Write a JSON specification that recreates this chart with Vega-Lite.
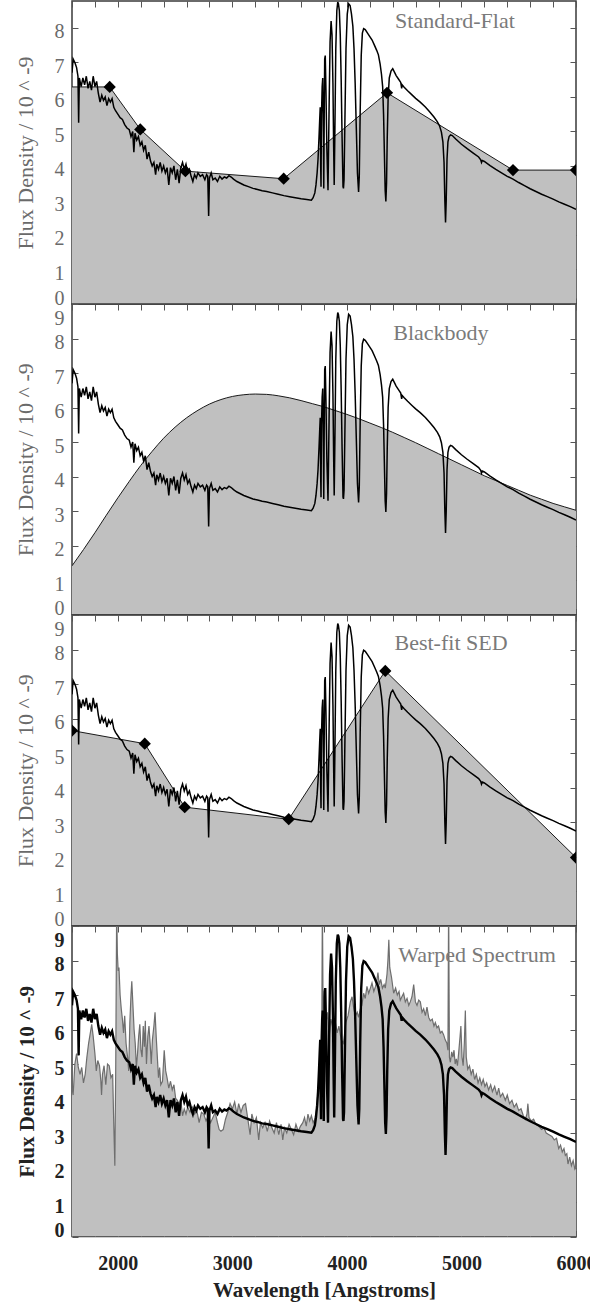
{
  "$schema": "https://vega.github.io/schema/vega-lite/v6.json",
  "padding": {"left": 13, "top": -1, "right": 0, "bottom": 0},
  "autosize": {"type": "pad"},
  "bounds": "flush",
  "spacing": 0,
  "config": {
    "font": "Liberation Serif",
    "view": {"stroke": "#3a3a3a", "strokeWidth": 1.5},
    "axis": {"domain": false, "grid": false, "tickColor": "#555", "tickSize": -6, "tickWidth": 1, "labelFont": "Liberation Serif", "titleFont": "Liberation Serif", "labelFontSize": 20, "titleFontSize": 22, "labelColor": "#6a6a6a", "titleColor": "#6a6a6a", "titleFontWeight": "normal", "labelOverlap": false, "labelFlush": false},
    "text": {"font": "Liberation Serif"}
  },
  "datasets": {
    "spectrum": [
      {"wavelength":1600,"flux":6.70},{"wavelength":1610,"flux":7.10},{"wavelength":1625,"flux":7.00},{"wavelength":1640,"flux":6.85},{"wavelength":1652,"flux":6.60},{"wavelength":1658,"flux":5.25},{"wavelength":1664,"flux":6.55},{"wavelength":1680,"flux":6.30},{"wavelength":1695,"flux":6.55},{"wavelength":1710,"flux":6.35},{"wavelength":1725,"flux":6.60},{"wavelength":1740,"flux":6.25},{"wavelength":1755,"flux":6.45},{"wavelength":1770,"flux":6.20},{"wavelength":1785,"flux":6.60},{"wavelength":1800,"flux":6.30},{"wavelength":1815,"flux":6.45},{"wavelength":1830,"flux":6.10},{"wavelength":1845,"flux":5.85},{"wavelength":1860,"flux":6.05},{"wavelength":1875,"flux":5.90},{"wavelength":1890,"flux":6.00},{"wavelength":1905,"flux":5.75},{"wavelength":1920,"flux":5.95},{"wavelength":1935,"flux":5.85},{"wavelength":1950,"flux":5.95},{"wavelength":1965,"flux":5.70},{"wavelength":1980,"flux":5.60},{"wavelength":2000,"flux":5.50},{"wavelength":2020,"flux":5.40},{"wavelength":2040,"flux":5.35},{"wavelength":2060,"flux":5.20},{"wavelength":2080,"flux":5.10},{"wavelength":2100,"flux":5.05},{"wavelength":2115,"flux":4.85},{"wavelength":2130,"flux":5.00},{"wavelength":2140,"flux":4.40},{"wavelength":2150,"flux":4.95},{"wavelength":2165,"flux":4.75},{"wavelength":2180,"flux":4.85},{"wavelength":2195,"flux":4.60},{"wavelength":2210,"flux":4.70},{"wavelength":2225,"flux":4.45},{"wavelength":2240,"flux":4.60},{"wavelength":2255,"flux":4.20},{"wavelength":2270,"flux":4.40},{"wavelength":2285,"flux":4.15},{"wavelength":2300,"flux":4.00},{"wavelength":2315,"flux":4.10},{"wavelength":2330,"flux":3.75},{"wavelength":2340,"flux":4.05},{"wavelength":2355,"flux":3.90},{"wavelength":2370,"flux":4.10},{"wavelength":2385,"flux":3.85},{"wavelength":2400,"flux":4.00},{"wavelength":2415,"flux":3.80},{"wavelength":2430,"flux":3.95},{"wavelength":2445,"flux":3.45},{"wavelength":2460,"flux":3.95},{"wavelength":2475,"flux":3.80},{"wavelength":2490,"flux":4.00},{"wavelength":2505,"flux":3.60},{"wavelength":2520,"flux":3.90},{"wavelength":2535,"flux":3.50},{"wavelength":2550,"flux":3.95},{"wavelength":2565,"flux":4.10},{"wavelength":2580,"flux":3.90},{"wavelength":2595,"flux":4.05},{"wavelength":2610,"flux":3.80},{"wavelength":2625,"flux":3.90},{"wavelength":2640,"flux":3.70},{"wavelength":2655,"flux":3.55},{"wavelength":2670,"flux":3.75},{"wavelength":2685,"flux":3.65},{"wavelength":2700,"flux":3.80},{"wavelength":2720,"flux":3.70},{"wavelength":2740,"flux":3.75},{"wavelength":2760,"flux":3.60},{"wavelength":2775,"flux":3.75},{"wavelength":2785,"flux":3.70},{"wavelength":2793,"flux":2.55},{"wavelength":2800,"flux":3.65},{"wavelength":2815,"flux":3.80},{"wavelength":2830,"flux":3.60},{"wavelength":2850,"flux":3.65},{"wavelength":2870,"flux":3.55},{"wavelength":2890,"flux":3.70},{"wavelength":2910,"flux":3.62},{"wavelength":2930,"flux":3.68},{"wavelength":2950,"flux":3.65},{"wavelength":2970,"flux":3.72},{"wavelength":2990,"flux":3.68},{"wavelength":3010,"flux":3.62},{"wavelength":3040,"flux":3.55},{"wavelength":3070,"flux":3.50},{"wavelength":3100,"flux":3.45},{"wavelength":3140,"flux":3.40},{"wavelength":3180,"flux":3.35},{"wavelength":3220,"flux":3.32},{"wavelength":3260,"flux":3.28},{"wavelength":3300,"flux":3.26},{"wavelength":3350,"flux":3.22},{"wavelength":3400,"flux":3.18},{"wavelength":3450,"flux":3.14},{"wavelength":3500,"flux":3.11},{"wavelength":3550,"flux":3.08},{"wavelength":3600,"flux":3.05},{"wavelength":3650,"flux":3.03},{"wavelength":3690,"flux":3.01},{"wavelength":3705,"flux":3.08},{"wavelength":3720,"flux":3.22},{"wavelength":3730,"flux":3.45},{"wavelength":3740,"flux":3.80},{"wavelength":3748,"flux":4.20},{"wavelength":3756,"flux":4.80},{"wavelength":3762,"flux":5.30},{"wavelength":3767,"flux":5.70},{"wavelength":3771,"flux":4.00},{"wavelength":3774,"flux":3.40},{"wavelength":3778,"flux":5.50},{"wavelength":3784,"flux":6.30},{"wavelength":3789,"flux":6.55},{"wavelength":3794,"flux":5.00},{"wavelength":3798,"flux":3.35},{"wavelength":3802,"flux":5.50},{"wavelength":3806,"flux":7.10},{"wavelength":3811,"flux":7.20},{"wavelength":3817,"flux":6.20},{"wavelength":3825,"flux":4.50},{"wavelength":3835,"flux":3.30},{"wavelength":3845,"flux":5.80},{"wavelength":3853,"flux":7.60},{"wavelength":3862,"flux":8.20},{"wavelength":3870,"flux":7.80},{"wavelength":3878,"flux":6.40},{"wavelength":3884,"flux":4.60},{"wavelength":3889,"flux":3.45},{"wavelength":3895,"flux":5.00},{"wavelength":3903,"flux":7.40},{"wavelength":3912,"flux":8.50},{"wavelength":3920,"flux":8.75},{"wavelength":3926,"flux":8.70},{"wavelength":3934,"flux":8.50},{"wavelength":3942,"flux":7.80},{"wavelength":3950,"flux":6.50},{"wavelength":3958,"flux":4.80},{"wavelength":3966,"flux":3.40},{"wavelength":3970,"flux":3.35},{"wavelength":3975,"flux":3.60},{"wavelength":3982,"flux":5.20},{"wavelength":3992,"flux":7.40},{"wavelength":4003,"flux":8.40},{"wavelength":4015,"flux":8.70},{"wavelength":4028,"flux":8.65},{"wavelength":4040,"flux":8.40},{"wavelength":4052,"flux":8.05},{"wavelength":4062,"flux":7.40},{"wavelength":4072,"flux":6.40},{"wavelength":4082,"flux":5.10},{"wavelength":4092,"flux":3.80},{"wavelength":4102,"flux":3.25},{"wavelength":4108,"flux":3.70},{"wavelength":4116,"flux":5.60},{"wavelength":4125,"flux":7.20},{"wavelength":4135,"flux":7.85},{"wavelength":4146,"flux":7.98},{"wavelength":4160,"flux":7.95},{"wavelength":4180,"flux":7.85},{"wavelength":4200,"flux":7.75},{"wavelength":4220,"flux":7.65},{"wavelength":4240,"flux":7.50},{"wavelength":4260,"flux":7.35},{"wavelength":4275,"flux":7.22},{"wavelength":4290,"flux":6.95},{"wavelength":4302,"flux":6.65},{"wavelength":4312,"flux":6.30},{"wavelength":4320,"flux":5.50},{"wavelength":4327,"flux":4.40},{"wavelength":4334,"flux":3.30},{"wavelength":4340,"flux":2.97},{"wavelength":4346,"flux":3.50},{"wavelength":4352,"flux":4.80},{"wavelength":4360,"flux":6.00},{"wavelength":4370,"flux":6.55},{"wavelength":4385,"flux":6.75},{"wavelength":4400,"flux":6.82},{"wavelength":4415,"flux":6.72},{"wavelength":4430,"flux":6.62},{"wavelength":4450,"flux":6.52},{"wavelength":4470,"flux":6.42},{"wavelength":4478,"flux":6.25},{"wavelength":4482,"flux":6.35},{"wavelength":4500,"flux":6.28},{"wavelength":4530,"flux":6.18},{"wavelength":4568,"flux":6.06},{"wavelength":4600,"flux":5.96},{"wavelength":4640,"flux":5.85},{"wavelength":4685,"flux":5.71},{"wavelength":4720,"flux":5.58},{"wavelength":4760,"flux":5.42},{"wavelength":4790,"flux":5.28},{"wavelength":4810,"flux":5.15},{"wavelength":4825,"flux":4.98},{"wavelength":4838,"flux":4.70},{"wavelength":4848,"flux":4.10},{"wavelength":4855,"flux":3.00},{"wavelength":4861,"flux":2.36},{"wavelength":4867,"flux":3.00},{"wavelength":4874,"flux":4.20},{"wavelength":4882,"flux":4.70},{"wavelength":4892,"flux":4.85},{"wavelength":4905,"flux":4.90},{"wavelength":4920,"flux":4.88},{"wavelength":4950,"flux":4.78},{"wavelength":5000,"flux":4.63},{"wavelength":5050,"flux":4.50},{"wavelength":5100,"flux":4.38},{"wavelength":5150,"flux":4.26},{"wavelength":5168,"flux":4.18},{"wavelength":5175,"flux":4.10},{"wavelength":5182,"flux":4.16},{"wavelength":5200,"flux":4.13},{"wavelength":5250,"flux":4.01},{"wavelength":5300,"flux":3.90},{"wavelength":5350,"flux":3.80},{"wavelength":5400,"flux":3.70},{"wavelength":5450,"flux":3.62},{"wavelength":5500,"flux":3.52},{"wavelength":5550,"flux":3.43},{"wavelength":5600,"flux":3.34},{"wavelength":5650,"flux":3.26},{"wavelength":5700,"flux":3.18},{"wavelength":5750,"flux":3.11},{"wavelength":5800,"flux":3.04},{"wavelength":5850,"flux":2.96},{"wavelength":5900,"flux":2.89},{"wavelength":5950,"flux":2.82},{"wavelength":6000,"flux":2.74}
    ],
    "flat": [
      {"wavelength":1600,"flux":6.29,"kind":"edge"},{"wavelength":1929,"flux":6.29,"kind":"filter"},{"wavelength":2196,"flux":5.06,"kind":"filter"},{"wavelength":2590,"flux":3.85,"kind":"filter"},{"wavelength":3448,"flux":3.63,"kind":"filter"},{"wavelength":4350,"flux":6.12,"kind":"filter"},{"wavelength":5450,"flux":3.88,"kind":"filter"},{"wavelength":6000,"flux":3.88,"kind":"filter"}
    ],
    "blackbody": [
      {"wavelength":1600,"flux":1.41},{"wavelength":1700,"flux":1.88},{"wavelength":1800,"flux":2.37},{"wavelength":1900,"flux":2.88},{"wavelength":2000,"flux":3.38},{"wavelength":2100,"flux":3.86},{"wavelength":2200,"flux":4.32},{"wavelength":2300,"flux":4.73},{"wavelength":2400,"flux":5.11},{"wavelength":2500,"flux":5.43},{"wavelength":2600,"flux":5.70},{"wavelength":2700,"flux":5.92},{"wavelength":2800,"flux":6.10},{"wavelength":2900,"flux":6.23},{"wavelength":3000,"flux":6.32},{"wavelength":3100,"flux":6.37},{"wavelength":3200,"flux":6.39},{"wavelength":3300,"flux":6.38},{"wavelength":3400,"flux":6.34},{"wavelength":3500,"flux":6.28},{"wavelength":3600,"flux":6.20},{"wavelength":3700,"flux":6.11},{"wavelength":3800,"flux":6.02},{"wavelength":3900,"flux":5.91},{"wavelength":4000,"flux":5.80},{"wavelength":4100,"flux":5.68},{"wavelength":4200,"flux":5.55},{"wavelength":4300,"flux":5.42},{"wavelength":4400,"flux":5.28},{"wavelength":4500,"flux":5.13},{"wavelength":4600,"flux":4.98},{"wavelength":4700,"flux":4.82},{"wavelength":4800,"flux":4.66},{"wavelength":4900,"flux":4.50},{"wavelength":5000,"flux":4.34},{"wavelength":5100,"flux":4.18},{"wavelength":5200,"flux":4.02},{"wavelength":5300,"flux":3.88},{"wavelength":5400,"flux":3.74},{"wavelength":5500,"flux":3.60},{"wavelength":5600,"flux":3.46},{"wavelength":5700,"flux":3.34},{"wavelength":5800,"flux":3.22},{"wavelength":5900,"flux":3.12},{"wavelength":6000,"flux":3.02}
    ],
    "bestfit": [
      {"wavelength":1600,"flux":5.65,"kind":"filter"},{"wavelength":2235,"flux":5.27,"kind":"filter"},{"wavelength":2584,"flux":3.43,"kind":"filter"},{"wavelength":3492,"flux":3.08,"kind":"filter"},{"wavelength":4335,"flux":7.38,"kind":"filter"},{"wavelength":6000,"flux":1.97,"kind":"filter"}
    ],
    "warped": [
      {"wavelength":1600,"flux":4.30},{"wavelength":1610,"flux":4.10},{"wavelength":1625,"flux":5.00},{"wavelength":1640,"flux":5.30},{"wavelength":1655,"flux":4.90},{"wavelength":1670,"flux":4.70},{"wavelength":1685,"flux":4.90},{"wavelength":1700,"flux":4.45},{"wavelength":1715,"flux":4.70},{"wavelength":1730,"flux":5.20},{"wavelength":1745,"flux":5.60},{"wavelength":1760,"flux":5.90},{"wavelength":1772,"flux":6.15},{"wavelength":1785,"flux":5.80},{"wavelength":1800,"flux":5.30},{"wavelength":1812,"flux":4.80},{"wavelength":1825,"flux":5.10},{"wavelength":1840,"flux":4.95},{"wavelength":1852,"flux":4.50},{"wavelength":1858,"flux":4.10},{"wavelength":1866,"flux":4.70},{"wavelength":1880,"flux":4.95},{"wavelength":1895,"flux":4.40},{"wavelength":1910,"flux":5.00},{"wavelength":1925,"flux":4.95},{"wavelength":1940,"flux":4.60},{"wavelength":1955,"flux":4.70},{"wavelength":1965,"flux":3.20},{"wavelength":1974,"flux":2.05},{"wavelength":1982,"flux":5.00},{"wavelength":1990,"flux":9.60},{"wavelength":1996,"flux":8.20},{"wavelength":2003,"flux":7.70},{"wavelength":2010,"flux":7.80},{"wavelength":2020,"flux":7.00},{"wavelength":2030,"flux":6.60},{"wavelength":2040,"flux":6.30},{"wavelength":2050,"flux":5.90},{"wavelength":2060,"flux":6.40},{"wavelength":2072,"flux":5.60},{"wavelength":2085,"flux":5.20},{"wavelength":2095,"flux":4.80},{"wavelength":2105,"flux":6.20},{"wavelength":2115,"flux":7.00},{"wavelength":2122,"flux":7.40},{"wavelength":2132,"flux":6.70},{"wavelength":2142,"flux":6.00},{"wavelength":2152,"flux":5.60},{"wavelength":2162,"flux":4.90},{"wavelength":2172,"flux":5.30},{"wavelength":2182,"flux":5.80},{"wavelength":2192,"flux":6.15},{"wavelength":2202,"flux":5.40},{"wavelength":2212,"flux":5.20},{"wavelength":2222,"flux":6.10},{"wavelength":2232,"flux":5.50},{"wavelength":2240,"flux":6.25},{"wavelength":2250,"flux":5.00},{"wavelength":2262,"flux":5.80},{"wavelength":2272,"flux":6.10},{"wavelength":2282,"flux":5.60},{"wavelength":2292,"flux":5.00},{"wavelength":2302,"flux":5.70},{"wavelength":2315,"flux":6.10},{"wavelength":2325,"flux":6.50},{"wavelength":2335,"flux":5.80},{"wavelength":2345,"flux":5.20},{"wavelength":2355,"flux":4.60},{"wavelength":2365,"flux":4.90},{"wavelength":2375,"flux":4.40},{"wavelength":2390,"flux":4.50},{"wavelength":2405,"flux":5.40},{"wavelength":2418,"flux":4.80},{"wavelength":2430,"flux":4.60},{"wavelength":2445,"flux":4.30},{"wavelength":2460,"flux":4.50},{"wavelength":2475,"flux":4.25},{"wavelength":2490,"flux":4.40},{"wavelength":2505,"flux":4.00},{"wavelength":2520,"flux":3.95},{"wavelength":2535,"flux":3.80},{"wavelength":2550,"flux":3.95},{"wavelength":2565,"flux":3.50},{"wavelength":2580,"flux":3.70},{"wavelength":2595,"flux":3.55},{"wavelength":2610,"flux":3.75},{"wavelength":2630,"flux":3.60},{"wavelength":2650,"flux":3.75},{"wavelength":2670,"flux":3.55},{"wavelength":2690,"flux":3.65},{"wavelength":2710,"flux":3.30},{"wavelength":2730,"flux":3.60},{"wavelength":2750,"flux":3.55},{"wavelength":2770,"flux":3.35},{"wavelength":2790,"flux":3.50},{"wavelength":2810,"flux":3.30},{"wavelength":2830,"flux":3.45},{"wavelength":2850,"flux":3.60},{"wavelength":2870,"flux":3.30},{"wavelength":2885,"flux":3.10},{"wavelength":2900,"flux":3.05},{"wavelength":2920,"flux":3.10},{"wavelength":2940,"flux":3.40},{"wavelength":2960,"flux":3.60},{"wavelength":2980,"flux":3.85},{"wavelength":3000,"flux":3.70},{"wavelength":3020,"flux":3.90},{"wavelength":3040,"flux":3.55},{"wavelength":3055,"flux":3.85},{"wavelength":3075,"flux":3.60},{"wavelength":3095,"flux":3.80},{"wavelength":3115,"flux":3.85},{"wavelength":3135,"flux":3.40},{"wavelength":3155,"flux":2.95},{"wavelength":3170,"flux":3.55},{"wavelength":3190,"flux":3.30},{"wavelength":3210,"flux":3.45},{"wavelength":3230,"flux":2.80},{"wavelength":3245,"flux":3.30},{"wavelength":3265,"flux":3.15},{"wavelength":3285,"flux":3.30},{"wavelength":3305,"flux":3.05},{"wavelength":3325,"flux":3.35},{"wavelength":3345,"flux":3.15},{"wavelength":3365,"flux":3.00},{"wavelength":3385,"flux":3.30},{"wavelength":3405,"flux":2.95},{"wavelength":3425,"flux":3.25},{"wavelength":3440,"flux":2.80},{"wavelength":3455,"flux":3.15},{"wavelength":3475,"flux":3.00},{"wavelength":3495,"flux":3.25},{"wavelength":3515,"flux":3.10},{"wavelength":3535,"flux":2.95},{"wavelength":3555,"flux":3.25},{"wavelength":3575,"flux":3.05},{"wavelength":3595,"flux":3.20},{"wavelength":3615,"flux":3.30},{"wavelength":3630,"flux":3.45},{"wavelength":3645,"flux":3.20},{"wavelength":3660,"flux":3.55},{"wavelength":3675,"flux":3.35},{"wavelength":3690,"flux":3.50},{"wavelength":3705,"flux":3.30},{"wavelength":3720,"flux":3.40},{"wavelength":3735,"flux":3.70},{"wavelength":3750,"flux":4.30},{"wavelength":3765,"flux":5.00},{"wavelength":3780,"flux":5.60},{"wavelength":3786,"flux":9.80},{"wavelength":3792,"flux":6.50},{"wavelength":3805,"flux":7.10},{"wavelength":3815,"flux":6.10},{"wavelength":3830,"flux":6.50},{"wavelength":3845,"flux":5.80},{"wavelength":3860,"flux":6.30},{"wavelength":3880,"flux":6.00},{"wavelength":3900,"flux":6.20},{"wavelength":3915,"flux":5.90},{"wavelength":3930,"flux":6.10},{"wavelength":3950,"flux":5.70},{"wavelength":3970,"flux":5.60},{"wavelength":3990,"flux":6.20},{"wavelength":4010,"flux":6.40},{"wavelength":4030,"flux":6.80},{"wavelength":4045,"flux":6.95},{"wavelength":4060,"flux":6.60},{"wavelength":4075,"flux":6.40},{"wavelength":4090,"flux":6.50},{"wavelength":4102,"flux":6.35},{"wavelength":4118,"flux":6.60},{"wavelength":4131,"flux":6.70},{"wavelength":4146,"flux":7.05},{"wavelength":4160,"flux":6.90},{"wavelength":4175,"flux":7.25},{"wavelength":4190,"flux":7.05},{"wavelength":4205,"flux":7.20},{"wavelength":4219,"flux":7.35},{"wavelength":4235,"flux":7.10},{"wavelength":4250,"flux":7.25},{"wavelength":4262,"flux":7.45},{"wavelength":4271,"flux":7.65},{"wavelength":4282,"flux":7.30},{"wavelength":4295,"flux":7.45},{"wavelength":4310,"flux":7.20},{"wavelength":4325,"flux":7.30},{"wavelength":4335,"flux":7.20},{"wavelength":4350,"flux":7.60},{"wavelength":4358,"flux":8.00},{"wavelength":4366,"flux":8.60},{"wavelength":4374,"flux":7.80},{"wavelength":4390,"flux":7.50},{"wavelength":4408,"flux":7.05},{"wavelength":4425,"flux":7.20},{"wavelength":4440,"flux":7.00},{"wavelength":4455,"flux":7.10},{"wavelength":4466,"flux":6.85},{"wavelength":4480,"flux":6.95},{"wavelength":4495,"flux":7.05},{"wavelength":4510,"flux":6.80},{"wavelength":4525,"flux":6.90},{"wavelength":4540,"flux":6.70},{"wavelength":4553,"flux":6.80},{"wavelength":4568,"flux":6.95},{"wavelength":4583,"flux":7.30},{"wavelength":4598,"flux":6.80},{"wavelength":4612,"flux":6.70},{"wavelength":4627,"flux":6.85},{"wavelength":4641,"flux":6.80},{"wavelength":4656,"flux":6.50},{"wavelength":4670,"flux":6.60},{"wavelength":4685,"flux":6.40},{"wavelength":4699,"flux":6.65},{"wavelength":4714,"flux":6.35},{"wavelength":4728,"flux":6.25},{"wavelength":4745,"flux":6.30},{"wavelength":4760,"flux":6.10},{"wavelength":4772,"flux":6.20},{"wavelength":4786,"flux":6.05},{"wavelength":4800,"flux":6.10},{"wavelength":4815,"flux":5.90},{"wavelength":4830,"flux":5.95},{"wavelength":4844,"flux":5.85},{"wavelength":4858,"flux":5.70},{"wavelength":4873,"flux":5.60},{"wavelength":4882,"flux":5.40},{"wavelength":4888,"flux":9.80},{"wavelength":4895,"flux":5.20},{"wavelength":4903,"flux":5.05},{"wavelength":4915,"flux":5.35},{"wavelength":4925,"flux":5.20},{"wavelength":4935,"flux":5.40},{"wavelength":4945,"flux":5.00},{"wavelength":4955,"flux":5.15},{"wavelength":4965,"flux":4.95},{"wavelength":4975,"flux":5.30},{"wavelength":4988,"flux":5.80},{"wavelength":4995,"flux":6.10},{"wavelength":5005,"flux":5.20},{"wavelength":5015,"flux":4.95},{"wavelength":5025,"flux":5.60},{"wavelength":5034,"flux":6.55},{"wavelength":5042,"flux":5.20},{"wavelength":5055,"flux":4.85},{"wavelength":5070,"flux":4.95},{"wavelength":5085,"flux":4.70},{"wavelength":5100,"flux":4.85},{"wavelength":5115,"flux":4.55},{"wavelength":5130,"flux":4.70},{"wavelength":5145,"flux":4.45},{"wavelength":5160,"flux":4.60},{"wavelength":5175,"flux":4.40},{"wavelength":5190,"flux":4.55},{"wavelength":5205,"flux":4.35},{"wavelength":5220,"flux":4.45},{"wavelength":5237,"flux":4.25},{"wavelength":5255,"flux":4.40},{"wavelength":5270,"flux":4.20},{"wavelength":5290,"flux":4.35},{"wavelength":5310,"flux":4.10},{"wavelength":5325,"flux":4.30},{"wavelength":5340,"flux":4.05},{"wavelength":5360,"flux":4.15},{"wavelength":5383,"flux":3.95},{"wavelength":5400,"flux":4.10},{"wavelength":5420,"flux":3.85},{"wavelength":5441,"flux":3.95},{"wavelength":5460,"flux":3.75},{"wavelength":5480,"flux":3.85},{"wavelength":5500,"flux":3.65},{"wavelength":5520,"flux":3.70},{"wavelength":5540,"flux":3.50},{"wavelength":5558,"flux":3.40},{"wavelength":5572,"flux":3.55},{"wavelength":5580,"flux":3.85},{"wavelength":5590,"flux":3.45},{"wavelength":5610,"flux":3.35},{"wavelength":5630,"flux":3.40},{"wavelength":5650,"flux":3.25},{"wavelength":5674,"flux":3.20},{"wavelength":5700,"flux":3.10},{"wavelength":5720,"flux":3.15},{"wavelength":5740,"flux":3.00},{"wavelength":5765,"flux":2.95},{"wavelength":5790,"flux":2.90},{"wavelength":5810,"flux":2.80},{"wavelength":5830,"flux":2.85},{"wavelength":5849,"flux":2.55},{"wavelength":5865,"flux":2.65},{"wavelength":5880,"flux":2.45},{"wavelength":5895,"flux":2.55},{"wavelength":5907,"flux":2.35},{"wavelength":5920,"flux":2.40},{"wavelength":5930,"flux":2.10},{"wavelength":5945,"flux":2.30},{"wavelength":5960,"flux":2.05},{"wavelength":5975,"flux":2.20},{"wavelength":5990,"flux":1.95},{"wavelength":6000,"flux":2.00}
    ]
  },
  "vconcat": [
    {
      "width": 504, "height": 303,
      "layer": [
        {"data": {"name": "flat"}, "mark": {"type": "area", "color": "#c0c0c0", "opacity": 1, "clip": true, "line": {"color": "#1a1a1a", "strokeWidth": 1}},
         "encoding": {
           "x": {"field": "wavelength", "type": "quantitative", "scale": {"domain": [1600, 6000], "nice": false, "zero": false}, "axis": {"orient": "bottom", "values": [1600,1800,2000,2200,2400,2600,2800,3000,3200,3400,3600,3800,4000,4200,4400,4600,4800,5000,5200,5400,5600,5800,6000], "labels": false, "title": null}},
           "y": {"field": "flux", "type": "quantitative", "scale": {"domain": [0, 8.78], "nice": false, "zero": false}, "axis": {"orient": "left", "values": [0,1,2,3,4,5,6,7,8], "title": "Flux Density / 10 ^ -9", "labelPadding": 14, "labelOffset": 4, "labelFlush": true, "titlePadding": 17}}
         }},
        {"data": {"name": "spectrum"}, "mark": {"type": "line", "color": "#000", "strokeWidth": 1.5, "clip": true},
         "encoding": {
           "x": {"field": "wavelength", "type": "quantitative", "axis": {"orient": "top", "values": [1600,1800,2000,2200,2400,2600,2800,3000,3200,3400,3600,3800,4000,4200,4400,4600,4800,5000,5200,5400,5600,5800,6000], "labels": false, "title": null}},
           "y": {"field": "flux", "type": "quantitative", "axis": {"orient": "right", "values": [0,1,2,3,4,5,6,7,8], "labels": false, "title": null}}
         }},
        {"data": {"name": "flat"}, "transform": [{"filter": "datum.kind === 'filter'"}], "mark": {"type": "point", "shape": "diamond", "filled": true, "color": "#000", "opacity": 1, "size": 150, "clip": true},
         "encoding": {
           "x": {"field": "wavelength", "type": "quantitative", "axis": null},
           "y": {"field": "flux", "type": "quantitative", "axis": null}
         }},
        {"data": {"values": [{"panel": "Standard-Flat", "wavelength": 4943, "flux": 8.2}]}, "mark": {"type": "text", "fontSize": 22, "color": "#7a7a7a", "align": "center", "baseline": "middle"},
         "encoding": {
           "x": {"field": "wavelength", "type": "quantitative", "axis": null},
           "y": {"field": "flux", "type": "quantitative", "axis": null},
           "text": {"field": "panel"}
         }}
      ],
      "resolve": {"axis": {"x": "independent", "y": "independent"}}
    },
    {
      "width": 504, "height": 310.5,
      "layer": [
        {"data": {"name": "blackbody"}, "mark": {"type": "area", "color": "#c0c0c0", "opacity": 1, "clip": true, "interpolate": "monotone", "line": {"color": "#1a1a1a", "strokeWidth": 1}},
         "encoding": {
           "x": {"field": "wavelength", "type": "quantitative", "scale": {"domain": [1600, 6000], "nice": false, "zero": false}, "axis": {"orient": "bottom", "values": [1600,1800,2000,2200,2400,2600,2800,3000,3200,3400,3600,3800,4000,4200,4400,4600,4800,5000,5200,5400,5600,5800,6000], "labels": false, "title": null}},
           "y": {"field": "flux", "type": "quantitative", "scale": {"domain": [0, 9], "nice": false, "zero": false}, "axis": {"orient": "left", "values": [0,1,2,3,4,5,6,7,8,9], "title": "Flux Density / 10 ^ -9", "labelPadding": 14, "labelOffset": 4, "labelFlush": true, "titlePadding": 17}}
         }},
        {"data": {"name": "spectrum"}, "mark": {"type": "line", "color": "#000", "strokeWidth": 1.5, "clip": true},
         "encoding": {
           "x": {"field": "wavelength", "type": "quantitative", "axis": {"orient": "top", "values": [1600,1800,2000,2200,2400,2600,2800,3000,3200,3400,3600,3800,4000,4200,4400,4600,4800,5000,5200,5400,5600,5800,6000], "labels": false, "title": null}},
           "y": {"field": "flux", "type": "quantitative", "axis": {"orient": "right", "values": [0,1,2,3,4,5,6,7,8,9], "labels": false, "title": null}}
         }},
        {"data": {"values": [{"panel": "Blackbody", "wavelength": 4821, "flux": 8.17}]}, "mark": {"type": "text", "fontSize": 22, "color": "#7a7a7a", "align": "center", "baseline": "middle"},
         "encoding": {
           "x": {"field": "wavelength", "type": "quantitative", "axis": null},
           "y": {"field": "flux", "type": "quantitative", "axis": null},
           "text": {"field": "panel"}
         }}
      ],
      "resolve": {"axis": {"x": "independent", "y": "independent"}}
    },
    {
      "width": 504, "height": 310.5,
      "layer": [
        {"data": {"name": "bestfit"}, "mark": {"type": "area", "color": "#c0c0c0", "opacity": 1, "clip": true, "line": {"color": "#1a1a1a", "strokeWidth": 1}},
         "encoding": {
           "x": {"field": "wavelength", "type": "quantitative", "scale": {"domain": [1600, 6000], "nice": false, "zero": false}, "axis": {"orient": "bottom", "values": [1600,1800,2000,2200,2400,2600,2800,3000,3200,3400,3600,3800,4000,4200,4400,4600,4800,5000,5200,5400,5600,5800,6000], "labels": false, "title": null}},
           "y": {"field": "flux", "type": "quantitative", "scale": {"domain": [0, 9], "nice": false, "zero": false}, "axis": {"orient": "left", "values": [0,1,2,3,4,5,6,7,8,9], "title": "Flux Density / 10 ^ -9", "labelPadding": 14, "labelOffset": 4, "labelFlush": true, "titlePadding": 17}}
         }},
        {"data": {"name": "spectrum"}, "mark": {"type": "line", "color": "#000", "strokeWidth": 1.5, "clip": true},
         "encoding": {
           "x": {"field": "wavelength", "type": "quantitative", "axis": {"orient": "top", "values": [1600,1800,2000,2200,2400,2600,2800,3000,3200,3400,3600,3800,4000,4200,4400,4600,4800,5000,5200,5400,5600,5800,6000], "labels": false, "title": null}},
           "y": {"field": "flux", "type": "quantitative", "axis": {"orient": "right", "values": [0,1,2,3,4,5,6,7,8,9], "labels": false, "title": null}}
         }},
        {"data": {"name": "bestfit"}, "mark": {"type": "point", "shape": "diamond", "filled": true, "color": "#000", "opacity": 1, "size": 150, "clip": true},
         "encoding": {
           "x": {"field": "wavelength", "type": "quantitative", "axis": null},
           "y": {"field": "flux", "type": "quantitative", "axis": null}
         }},
        {"data": {"values": [{"panel": "Best-fit SED", "wavelength": 4909, "flux": 8.19}]}, "mark": {"type": "text", "fontSize": 22, "color": "#7a7a7a", "align": "center", "baseline": "middle"},
         "encoding": {
           "x": {"field": "wavelength", "type": "quantitative", "axis": null},
           "y": {"field": "flux", "type": "quantitative", "axis": null},
           "text": {"field": "panel"}
         }}
      ],
      "resolve": {"axis": {"x": "independent", "y": "independent"}}
    },
    {
      "width": 504, "height": 310.5,
      "layer": [
        {"data": {"name": "warped"}, "mark": {"type": "area", "color": "#c0c0c0", "opacity": 1, "clip": true, "line": {"color": "#6e6e6e", "strokeWidth": 1.2}},
         "encoding": {
           "x": {"field": "wavelength", "type": "quantitative", "scale": {"domain": [1600, 6000], "nice": false, "zero": false}, "axis": {"orient": "bottom", "values": [1600,1800,2000,2200,2400,2600,2800,3000,3200,3400,3600,3800,4000,4200,4400,4600,4800,5000,5200,5400,5600,5800,6000], "labelExpr": "datum.value % 1000 === 0 ? format(datum.value, 'd') : ''", "title": "Wavelength [Angstroms]", "labelPadding": 23, "titlePadding": 6, "labelColor": "#222", "labelFontWeight": "bold", "titleColor": "#222", "titleFontWeight": "bold", "titleFontSize": 21}},
           "y": {"field": "flux", "type": "quantitative", "scale": {"domain": [0, 9], "nice": false, "zero": false}, "axis": {"orient": "left", "values": [0,1,2,3,4,5,6,7,8,9], "title": "Flux Density / 10 ^ -9", "labelPadding": 14, "labelOffset": 4, "labelFlush": true, "titlePadding": 17, "labelColor": "#222", "labelFontWeight": "bold", "titleColor": "#222", "titleFontWeight": "bold", "titleFontSize": 21}}
         }},
        {"data": {"name": "spectrum"}, "mark": {"type": "line", "color": "#000", "strokeWidth": 2.4, "clip": true},
         "encoding": {
           "x": {"field": "wavelength", "type": "quantitative", "axis": {"orient": "top", "values": [1600,1800,2000,2200,2400,2600,2800,3000,3200,3400,3600,3800,4000,4200,4400,4600,4800,5000,5200,5400,5600,5800,6000], "labels": false, "title": null}},
           "y": {"field": "flux", "type": "quantitative", "axis": {"orient": "right", "values": [0,1,2,3,4,5,6,7,8,9], "labels": false, "title": null}}
         }},
        {"data": {"values": [{"panel": "Warped Spectrum", "wavelength": 5136, "flux": 8.17}]}, "mark": {"type": "text", "fontSize": 22, "color": "#7a7a7a", "align": "center", "baseline": "middle"},
         "encoding": {
           "x": {"field": "wavelength", "type": "quantitative", "axis": null},
           "y": {"field": "flux", "type": "quantitative", "axis": null},
           "text": {"field": "panel"}
         }}
      ],
      "resolve": {"axis": {"x": "independent", "y": "independent"}}
    }
  ]
}
